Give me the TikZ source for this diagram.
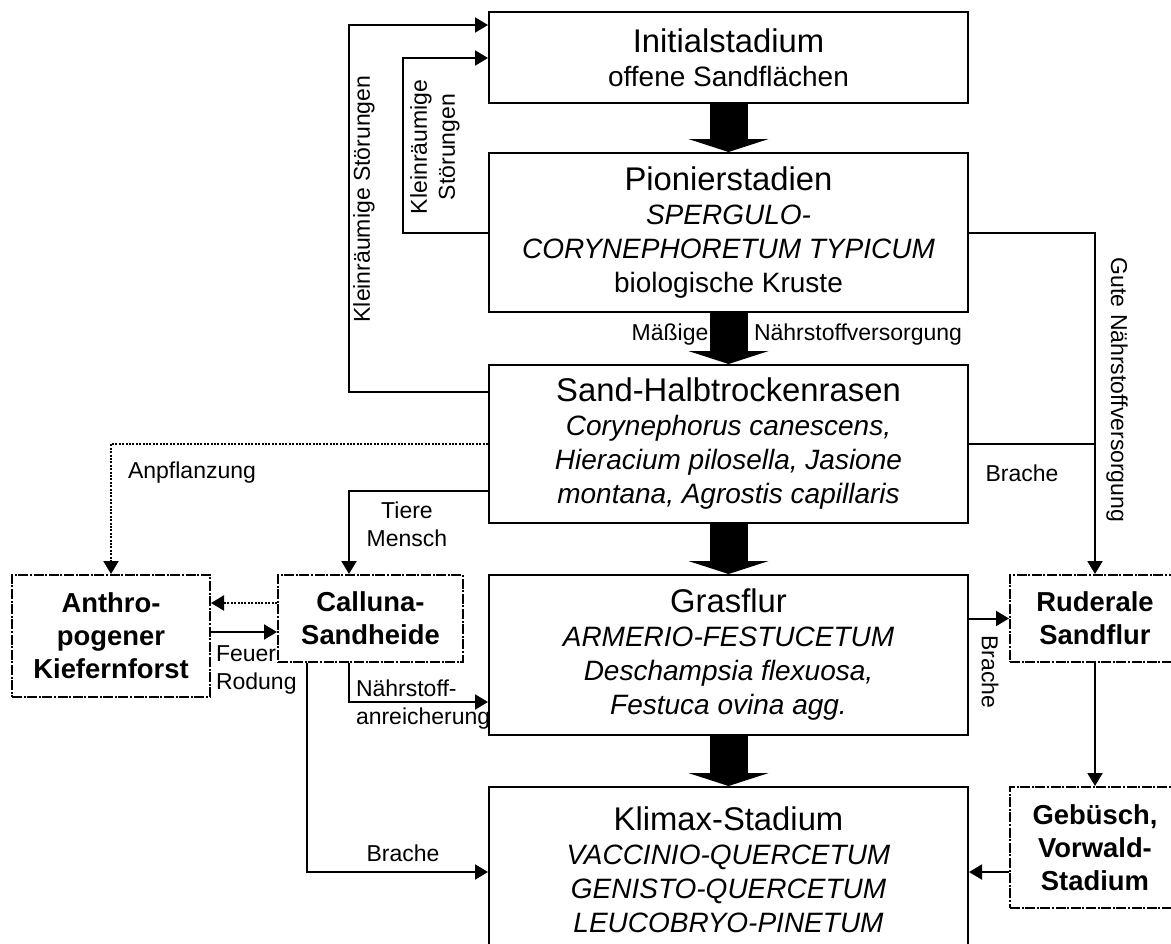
\documentclass[tikz,border=0pt]{standalone}
\usepackage{fontspec}
\setmainfont{Liberation Sans}
\usetikzlibrary{arrows.meta}
\newcommand\stagetitle{\fontsize{16.4}{17}\selectfont}

\begin{document}
\begin{tikzpicture}[x=0.5pt,y=-0.5pt,line width=1pt,>={Triangle[length=6.5pt,width=7.5pt]},
  stage/.style={draw,minimum width=239.5pt,inner sep=0pt,align=center,font=\fontsize{14}{17}\selectfont},
  side/.style={draw,dash pattern=on 5pt off 0.8pt on 1pt off 0.8pt,inner sep=0pt,align=center,
    font=\bfseries\fontsize{13.7}{16.5}\selectfont},
  lbl/.style={inner sep=0pt,font=\fontsize{11.5}{14}\selectfont},
  dotline/.style={dash pattern=on 1pt off 0.7pt},
  succ/.style={line width=19pt,-{Triangle[width=40pt,length=6.5pt]}}]
\useasboundingbox (0,0) rectangle (1171,943);
% Sukzessionsstadien (Mitte)
\node[stage,minimum height=45.5pt] (init) at (728.5,57.5)
  {{\stagetitle Initialstadium}\\offene Sandflächen};
\node[stage,minimum height=79.5pt] (pion) at (728.5,232.5)
  {{\stagetitle Pionierstadien}\\\textit{SPERGULO-}\\\textit{CORYNEPHORETUM TYPICUM}\\biologische Kruste};
\node[stage,minimum height=79pt] (sand) at (728.5,444)
  {{\stagetitle Sand-Halbtrockenrasen}\\\textit{Corynephorus canescens,}\\\textit{Hieracium pilosella, Jasione}\\\textit{montana, Agrostis capillaris}};
\node[stage,minimum height=80pt] (gras) at (728.5,655)
  {{\stagetitle Grasflur}\\\textit{ARMERIO-FESTUCETUM}\\\textit{Deschampsia flexuosa,}\\\textit{Festuca ovina agg.}};
\node[stage,minimum height=83pt] (klim) at (728.5,870)
  {{\stagetitle Klimax-Stadium}\\\textit{VACCINIO-QUERCETUM}\\\textit{GENISTO-QUERCETUM}\\\textit{LEUCOBRYO-PINETUM}};
% Nebenstadien (gestrichelt)
\node[side,minimum width=99pt,minimum height=61pt] (anthro) at (111,636) {Anthro-\\pogener\\Kiefernforst};
\node[side,minimum width=92.5pt,minimum height=43.5pt] (callu) at (370.5,618.5) {Calluna-\\Sandheide};
\node[side,minimum width=85pt,minimum height=43.5pt] (rud) at (1095,618.5) {Ruderale\\Sandflur};
\node[side,minimum width=85pt,minimum height=60.5pt] (geb) at (1095,847.5) {Gebüsch,\\Vorwald-\\Stadium};
% Hauptpfeile
\foreach \a/\b in {init/pion,pion/sand,sand/gras,gras/klim}
  \draw[succ] (\a.south) -- (\b.north);
% Beschriftungen
\node[lbl] (maessig) at (670,335) {Mäßige};
\node[lbl] (naehrv) at (858,335) {Nährstoffversorgung};
\node[lbl,rotate=90] (kleinA) at (364,199) {Kleinräumige Störungen};
\node[lbl,rotate=90,align=center] (kleinB) at (435,147) {Kleinräumige\\Störungen};
\node[lbl,rotate=-90] (gute) at (1117,390) {Gute Nährstoffversorgung};
\node[lbl] (anpfl) at (192,473) {Anpflanzung};
\node[lbl,align=center] (tiere) at (407,524) {Tiere\\Mensch};
\node[lbl] (bracheA) at (1022,473) {Brache};
\node[lbl,anchor=west,align=left] (feuer) at (215,670) {Feuer\\Rodung};
\node[lbl,anchor=west,align=left] (anreich) at (355,705) {Nährstoff-\\anreicherung};
\node[lbl] (bracheB) at (403,853) {Brache};
\node[lbl,rotate=-90] (bracheC) at (990,672) {Brache};
% Störungen zurück zum Initialstadium
\draw[->] (sand.west |- 0,392) -| (349,25) -- (init.west |- 0,25);
\draw[->] (pion.west) -| (403,58) -- (init.west |- 0,58);
% linke Seite
\draw[dotline,->] (sand.west) -| (anthro.north);
\draw[->] (sand.west |- 0,491) -| (callu.north -| 349,0);
\draw[dotline,->] (callu.west |- 0,603) -- (anthro.east |- 0,603);
\draw[->] (anthro.east |- 0,632) -- (callu.west |- 0,632);
\draw[->] (callu.south -| 349,0) |- (gras.west |- 0,702);
\draw[->] (callu.south -| 307,0) |- (klim.west |- 0,872);
% rechte Seite
\draw[->] (pion.east |- 0,233) -| (rud.north);
\draw (sand.east) -- (sand.east -| rud.north);
\draw[->] (gras.east |- rud.west) -- (rud.west);
\draw[->] (rud.south) -- (geb.north);
\draw[->] (geb.west |- 0,872) -- (klim.east |- 0,872);
\end{tikzpicture}
\end{document}
